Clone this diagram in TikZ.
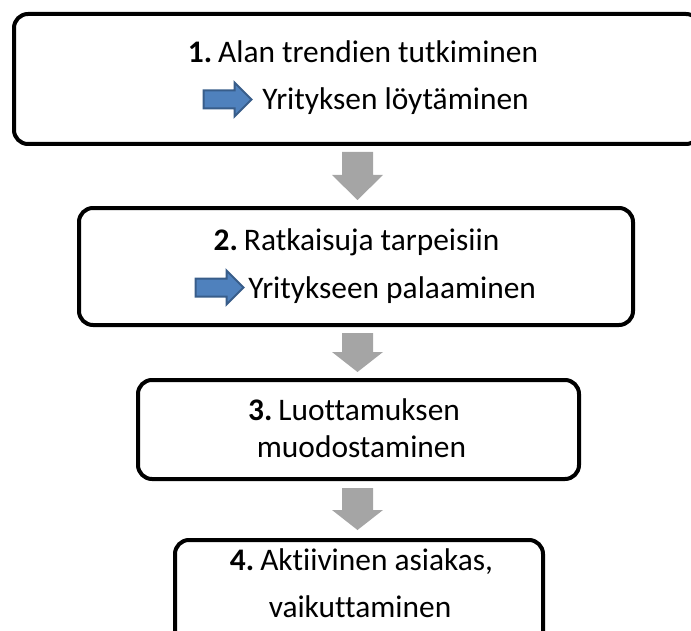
\documentclass[tikz,border=0pt]{standalone}
\usepackage{fontspec}
\setmainfont[Ligatures=NoCommon]{Carlito}
\usetikzlibrary{shapes.arrows}
\definecolor{stepgray}{HTML}{A5A5A5}
\definecolor{pointfill}{HTML}{4F81BD}
\definecolor{pointline}{HTML}{385D8A}
\tikzset{
	stage/.style={draw=black,line width=2pt,rounded corners=7pt,inner sep=0pt},
	pointer/.style={single arrow,draw=pointline,fill=pointfill,line width=1pt,
		minimum height=24pt,single arrow head extend=4pt,inner sep=0pt},
	txt/.style={font=\fontsize{15.7}{19}\selectfont,inner sep=0pt}
}

\begin{document}
\begin{tikzpicture}[x=0.5pt,y=-0.5pt]
	\useasboundingbox (0,0) rectangle (691,631);
	
	\node[stage,minimum width=343pt,minimum height=65pt] (box1) at (357,79) {};
	\node[stage,minimum width=277pt,minimum height=58.5pt] (box2) at (356,266.5) {};
	\node[stage,minimum width=220.5pt,minimum height=49.5pt] (box3) at (358.5,429.5) {};
	\node[stage,minimum width=184pt,minimum height=60pt] (box4) at (359,600) {};
	
	\foreach \t/\h/\b in {152/175/200,333/352/372,488/510/530}
		\fill[stepgray] (342,\t)--(373,\t)--(373,\h)--(383,\h)--(357.5,\b)--(332,\h)--(342,\h)--cycle;
	
	\node[pointer] (arr1) at (223,99.5) {\rule{0pt}{8pt}};
	\node[pointer] (arr2) at (215,287.5) {\rule{0pt}{8pt}};
	
	\node[txt,anchor=base] (t11) at (363,63) {\textbf{1.}\hspace{3pt}Alan trendien tutkiminen};
	\node[txt,anchor=base west] (t12) at (262,110) {Yrityksen löytäminen};
	\node[txt,anchor=base] (t21) at (356.5,250) {\textbf{2.}\hspace{3pt}Ratkaisuja tarpeisiin};
	\node[txt,anchor=base west] (t22) at (248,298) {Yritykseen palaaminen};
	\node[txt,anchor=base] (t31) at (354,420) {\textbf{3.}\hspace{3pt}Luottamuksen};
	\node[txt,anchor=base] (t32) at (361.5,457) {muodostaminen};
	\node[txt,anchor=base] (t41) at (361.5,570) {\textbf{4.}\hspace{3pt}Aktiivinen asiakas,};
	\node[txt,anchor=base] (t42) at (360,617) {vaikuttaminen};
\end{tikzpicture}
\end{document}
